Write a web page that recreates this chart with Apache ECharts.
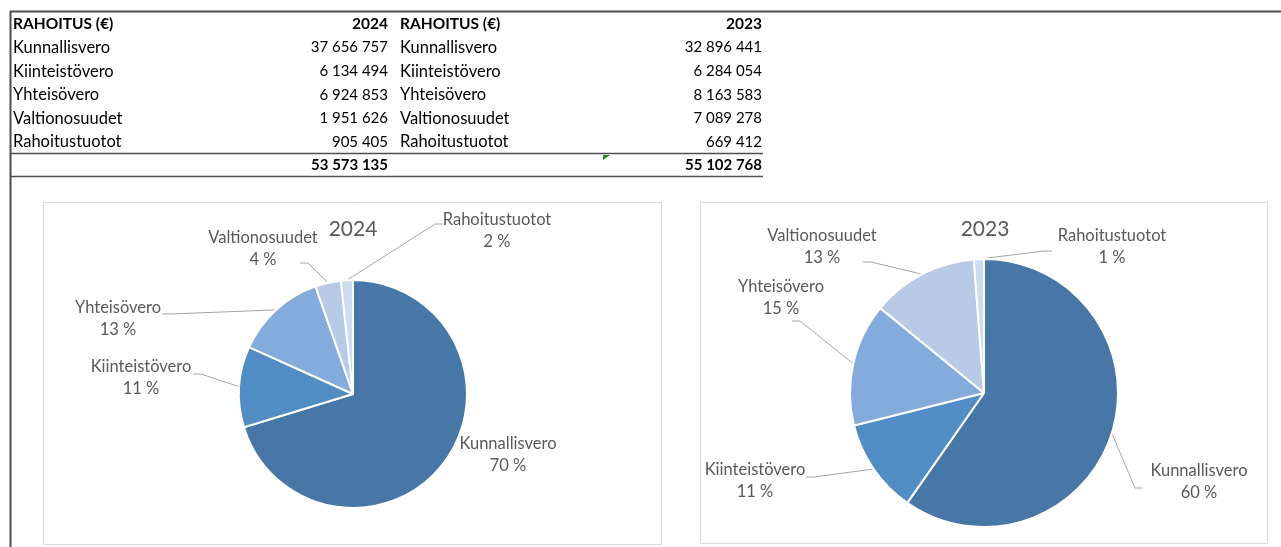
<!DOCTYPE html>
<html>
<head>
<meta charset="utf-8">
<script src="https://cdn.jsdelivr.net/npm/echarts@6/dist/echarts.min.js"></script>
<style>
  html, body { margin: 0; padding: 0; background: #fff; }
  #chart { width: 1281px; height: 547px; }
</style>
</head>
<body>
<div id="chart"></div>
<script>
// rahoituserät ja arvot (€)
const categories = ['Kunnallisvero', 'Kiinteistövero', 'Yhteisövero', 'Valtionosuudet', 'Rahoitustuotot'];
const values2024 = [37656757, 6134494, 6924853, 1951626, 905405];
const values2023 = [32896441, 6284054, 8163583, 7089278, 669412];
const totals = [53573135, 55102768];
const years = ['2024', '2023'];
const headerLabel = 'RAHOITUS (€)';

const colors = ['#4677a6', '#508dc5', '#83abdb', '#b7cbe7', '#cddcf0'];
const FONT = 'Lato';
const LABEL_COLOR = '#595959';

// label placement: [x, y, line end x, line end y], null = no leader line
const labelPos2024 = [
  [508, 455, null, null],
  [141, 378, 193, 374],
  [118, 319, 162, 314],
  [263, 249, 300, 263],
  [497, 231, 443, 224]
];
const labelPos2023 = [
  [1199, 482, 1143, 488],
  [755, 481, 806, 477],
  [781, 298, 792, 321],
  [822, 247, 863, 262],
  [1112, 247, 1052, 251]
];

function fmt(v) {
  return String(v).replace(/\B(?=(\d{3})+(?!\d))/g, ' ');
}

function txt(x, y, s, align, size, bold) {
  return {
    type: 'text', z: 10,
    style: {
      text: s, x: x, y: y, fill: '#000',
      fontFamily: FONT, fontSize: size, fontWeight: bold ? 'bold' : 'normal',
      align: align, verticalAlign: 'middle'
    }
  };
}

function hline(x1, x2, y, w) {
  return { type: 'line', z: 10, shape: { x1: x1, y1: y, x2: x2, y2: y }, style: { stroke: '#4d4d4d', lineWidth: w } };
}

// taulukko
const rowY = i => 24 + i * 23.6;
const graphics = [];
function addTable(labelX, valueX, year, values, total) {
  graphics.push(txt(labelX, rowY(0), headerLabel, 'left', 15.5, true));
  graphics.push(txt(valueX, rowY(0), year, 'right', 15.5, true));
  categories.forEach((c, i) => {
    graphics.push(txt(labelX, rowY(i + 1), c, 'left', 16.5));
    graphics.push(txt(valueX, rowY(i + 1), fmt(values[i]), 'right', 15));
  });
  graphics.push(txt(valueX, rowY(6), fmt(total), 'right', 15, true));
}
addTable(13, 388, years[0], values2024, totals[0]);
addTable(400, 762, years[1], values2023, totals[1]);

graphics.push(hline(10, 1281, 11.5, 2));
graphics.push(hline(10, 763, 153.5, 1.5));
graphics.push(hline(10, 763, 176.5, 1.5));
graphics.push({ type: 'line', z: 10, shape: { x1: 10.5, y1: 11, x2: 10.5, y2: 547 }, style: { stroke: '#4d4d4d', lineWidth: 2 } });
graphics.push({ type: 'polygon', z: 10, shape: { points: [[603, 155], [610, 155], [603, 160]] }, style: { fill: '#1e8c1e' } });

// kaavioiden kehykset ja otsikot
graphics.push({ type: 'rect', z: 0, shape: { x: 43.5, y: 202.5, width: 618, height: 342 }, style: { fill: '#fff', stroke: '#d9d9d9', lineWidth: 1 } });
graphics.push({ type: 'rect', z: 0, shape: { x: 700.5, y: 202.5, width: 567, height: 341 }, style: { fill: '#fff', stroke: '#d9d9d9', lineWidth: 1 } });
graphics.push({ type: 'text', z: 10, style: { text: years[0], x: 353, y: 229, fill: LABEL_COLOR, fontFamily: FONT, fontSize: 21, align: 'center', verticalAlign: 'middle' } });
graphics.push({ type: 'text', z: 10, style: { text: years[1], x: 985, y: 229, fill: LABEL_COLOR, fontFamily: FONT, fontSize: 21, align: 'center', verticalAlign: 'middle' } });

function pieSeries(values, center, radius, pos) {
  return {
    type: 'pie',
    center: center,
    radius: radius,
    startAngle: 90,
    clockwise: true,
    avoidLabelOverlap: false,
    animation: false,
    data: categories.map((n, i) => ({ name: n, value: values[i] })),
    itemStyle: { borderColor: '#fff', borderWidth: 2 },
    label: {
      show: true,
      formatter: p => p.name + '\n' + Math.round(p.percent) + ' %',
      color: LABEL_COLOR,
      fontFamily: FONT,
      fontSize: 16.5,
      lineHeight: 22,
      align: 'center'
    },
    labelLine: { show: true, length: 10, length2: 10, lineStyle: { color: '#a6a6a6', width: 1 } },
    labelLayout: function (params) {
      const p = pos[params.dataIndex];
      const res = { x: p[0], y: p[1], align: 'center', verticalAlign: 'middle' };
      const pts = params.labelLinePoints;
      if (pts) {
        const start = pts[0];
        if (p[2] == null) {
          res.labelLinePoints = [start, start, start];
        } else {
          const dir = p[2] < start[0] ? 1 : -1;
          res.labelLinePoints = [start, [p[2] + dir * 8, p[3]], [p[2], p[3]]];
        }
      }
      return res;
    }
  };
}

const chart = echarts.init(document.getElementById('chart'));
chart.setOption({
  animation: false,
  backgroundColor: '#fff',
  color: colors,
  graphic: graphics,
  series: [
    pieSeries(values2024, [353, 394], 114, labelPos2024),
    pieSeries(values2023, [984, 393], 134, labelPos2023)
  ]
});
</script>
</body>
</html>
